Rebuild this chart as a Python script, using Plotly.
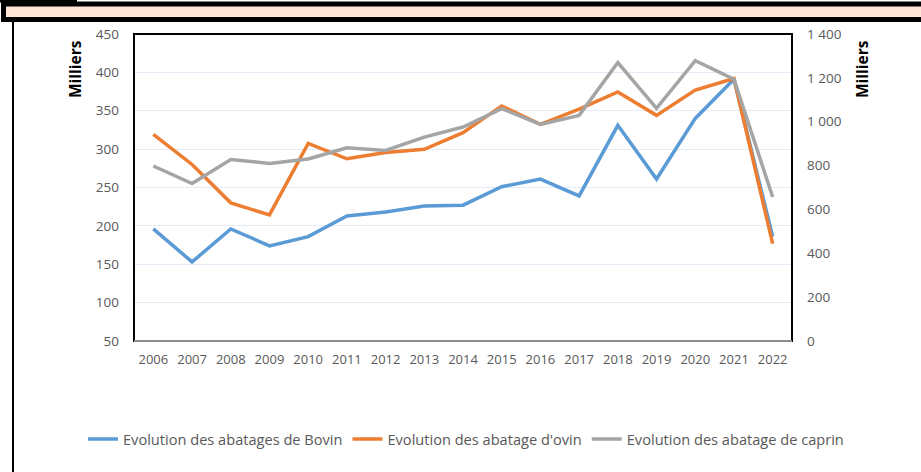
import plotly.graph_objects as go

years = [str(y) for y in range(2006, 2023)]
bovin = [196, 153, 196, 174, 186, 213, 218, 226, 227, 251, 261, 239, 331, 261, 340, 391, 186]
ovin = [942, 805, 630, 575, 901, 831, 860, 874, 950, 1072, 988, 1057, 1136, 1029, 1144, 1197, 444]
caprin = [798, 718, 828, 810, 830, 881, 869, 930, 976, 1060, 988, 1029, 1270, 1061, 1278, 1194, 657]

names = ["Evolution des abatages de Bovin", "Evolution des abatage d'ovin", "Evolution des abatage de caprin"]
colors = ["#5b9bd5", "#ed7d31", "#a5a5a5"]

W, H = 921, 472
L, R, T, B = 134, 792, 34, 341

def px(x):
    return (x - L) / (R - L)

def py(y):
    return (B - y) / (B - T)

FONT = "Open Sans"
TICKC = "#595959"

fig = go.Figure()
fig.add_trace(go.Scatter(x=years, y=bovin, name=names[0], mode="lines",
                         line=dict(color=colors[0], width=3.5), yaxis="y"))
fig.add_trace(go.Scatter(x=years, y=ovin, name=names[1], mode="lines",
                         line=dict(color=colors[1], width=3.5), yaxis="y2"))
fig.add_trace(go.Scatter(x=years, y=caprin, name=names[2], mode="lines",
                         line=dict(color=colors[2], width=3.5), yaxis="y2"))

shapes = [
    # top tab
    dict(type="rect", xref="paper", yref="paper", x0=px(-2), x1=px(77), y0=py(2.5), y1=py(-5),
         fillcolor="black", line=dict(width=0), layer="above"),
    # peach bar
    dict(type="rect", xref="paper", yref="paper", x0=px(3.5), x1=px(930), y0=py(19.5), y1=py(4),
         fillcolor="#fde4d6", line=dict(color="black", width=5), layer="above"),
    # left frame line
    dict(type="line", xref="paper", yref="paper", x0=px(13), x1=px(13), y0=py(22), y1=py(480),
         line=dict(color="black", width=2)),
    # plot frame
    dict(type="rect", xref="paper", yref="paper", x0=0, x1=1, y0=0, y1=1,
         line=dict(color="black", width=2), layer="above"),
    dict(type="line", xref="paper", yref="paper", x0=0, x1=1, y0=0, y1=0,
         line=dict(color="#8c8c8c", width=2), layer="above"),
]

annotations = [
    dict(text="<b>Milliers</b>", xref="paper", yref="paper", x=px(75), y=py(69),
         xanchor="center", yanchor="middle",
         textangle=-90, showarrow=False, font=dict(family=FONT, size=15.5, color="black")),
    dict(text="<b>Milliers</b>", xref="paper", yref="paper", x=px(862), y=py(69),
         xanchor="center", yanchor="middle",
         textangle=-90, showarrow=False, font=dict(family=FONT, size=15.5, color="black")),
]

fig.update_layout(
    width=W, height=H,
    margin=dict(l=L, r=W - R, t=T, b=H - B, pad=0),
    paper_bgcolor="white", plot_bgcolor="white",
    font=dict(family=FONT, size=13, color=TICKC),
    showlegend=True,
    legend=dict(orientation="h", x=px(83), xanchor="left", y=py(439), yanchor="middle",
                font=dict(family=FONT, size=14.6, color=TICKC), itemwidth=30,
                tracegroupgap=0, bgcolor="rgba(0,0,0,0)"),
    xaxis=dict(type="category", range=[-0.5, 16.5], showgrid=False, zeroline=False,
               showline=False, ticks="", ticklabelstandoff=9,
               tickfont=dict(family=FONT, size=13, color=TICKC)),
    yaxis=dict(range=[50, 450], dtick=50, tick0=50, showgrid=True, gridcolor="#e3ecf6",
               gridwidth=1, zeroline=False, showline=False, ticks="",
               ticklabelstandoff=14, tickfont=dict(family=FONT, size=13.5, color=TICKC)),
    yaxis2=dict(range=[0, 1400], dtick=200, overlaying="y", side="right", showgrid=False,
                zeroline=False, showline=False, ticks="", ticklabelstandoff=14,
                separatethousands=True, tickformat=",d",
                tickfont=dict(family=FONT, size=13.5, color=TICKC)),
    separators=", ",
    shapes=shapes,
    annotations=annotations,
)

fig.write_html("out.html", config={"displayModeBar": False},
               post_script="document.body.style.margin='0';")
